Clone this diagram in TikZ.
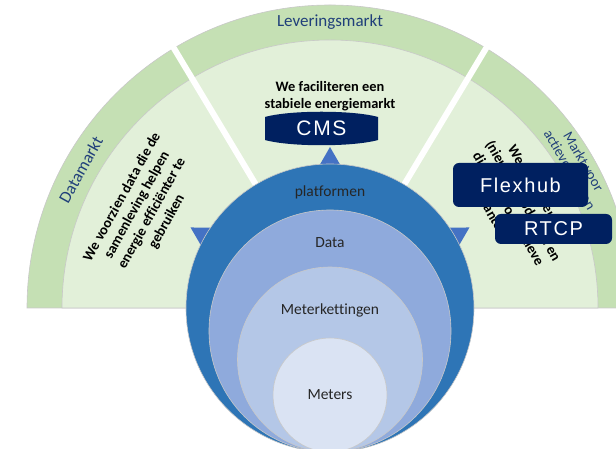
\documentclass[tikz,border=0pt]{standalone}
\usepackage{fontspec}
\setmainfont{Carlito}[Ligatures=NoCommon]
\newfontfamily\boxfont[LetterSpace=8]{Liberation Sans}
\usepackage{tikz}
\usetikzlibrary{calc}

\definecolor{bandgreen}{HTML}{C5E0B4}
\definecolor{innergreen}{HTML}{E2F0D9}
\definecolor{rimgray}{HTML}{C8C8C8}
\definecolor{ringone}{HTML}{2E75B6}
\definecolor{ringtwo}{HTML}{8FAADC}
\definecolor{ringthree}{HTML}{B4C7E7}
\definecolor{ringfour}{HTML}{DAE3F3}
\definecolor{tipblue}{HTML}{4472C4}
\definecolor{navy}{HTML}{002060}
\definecolor{marketblue}{HTML}{203F7A}
\definecolor{inktext}{HTML}{262626}

\tikzset{
  market/.style={text=marketblue, font=\fontsize{17}{19}\selectfont},
  mission/.style={text=black, font=\bfseries\fontsize{14.4}{17}\selectfont, align=center},
  layer/.style={circle, draw=rimgray, line width=0.6pt},
  layertext/.style={text=inktext, font=\fontsize{15.5}{18}\selectfont},
  toolbox/.style={fill=navy, rounded corners=6pt, text=white, font=\boxfont\fontsize{20}{22}\selectfont}
}

\begin{document}
\begin{tikzpicture}[x=1pt,y=1pt]
\useasboundingbox (0,0) rectangle (616,449);
\clip (0,0) rectangle (616,449);

\coordinate (C) at (330,141);

% fan of three markets
\filldraw[fill=bandgreen, draw=rimgray, line width=0.6pt] ($(C)+(-303,0)$) arc[start angle=180, end angle=0, radius=303] -- cycle;
\filldraw[fill=innergreen, draw=rimgray, line width=0.6pt] ($(C)+(-268,0)$) arc[start angle=180, end angle=0, radius=268] -- cycle;
\foreach \a in {59,121}
  \draw[white, line width=6pt] ($(C)+(\a:140)$) -- ($(C)+(\a:305)$);

\node[market] (lever) at ($(C)+(90:286)$) {Leveringsmarkt};
\node[market, rotate=61] (datam) at ($(C)+(151:285)$) {Datamarkt};
\node[market, font=\fontsize{14.5}{16}\selectfont, align=center, rotate=-60] (actief) at ($(C)+(30:285)$) {Markt voor\\actieve klanten};

\node[mission] (stabiel) at (330,353) {We faciliteren een\\stabiele energiemarkt};
\node[mission, rotate=61] (samen) at ($(C)+(152:210)$) {We voorzien data die de\\samenleving helpen\\energie efficiënter te\\gebruiken};
\node[mission, rotate=-60] (nieuw) at ($(C)+(29:212)$) {We ondersteunen\\(nieuwe) producten en\\diensten voor actieve\\klanten,};

% arrow tips behind the rings
\foreach \a in {30,90,150}
  \fill[tipblue, shift={(C)}, rotate=\a] (161,0) -- (141,11.5) -- (141,-11.5) -- cycle;

% layers
\node[layer, fill=ringone, minimum size=288pt] (plat) at (330,141) {};
\node[layer, fill=ringtwo, minimum size=242pt] (data) at (330,118) {};
\node[layer, fill=ringthree, minimum size=185pt] (keten) at (330,89.5) {};
\node[layer, fill=ringfour, minimum size=114pt] (meter) at (330,54) {};

\node[layertext] (platlab) at (330,257) {platformen};
\node[layertext] (datalab) at (330,206) {Data};
\node[layertext] (ketenlab) at (330,139) {Meterkettingen};
\node[layertext] (meterlab) at (330,54) {Meters};

% tools
\fill[navy] (265,309) .. controls (290,302) and (353,302) .. (378,309) -- (378,332) .. controls (353,339) and (290,339) .. (265,332) -- cycle;
\node[text=white, font=\boxfont\fontsize{21}{23}\selectfont] (cms) at (321.5,320.5) {CMS};
\node[toolbox, minimum width=135pt, minimum height=44pt] (flex) at (520.5,264) {Flexhub};
\node[toolbox, minimum width=117pt, minimum height=30pt] (rtcp) at (553.5,220) {RTCP};

\end{tikzpicture}
\end{document}
